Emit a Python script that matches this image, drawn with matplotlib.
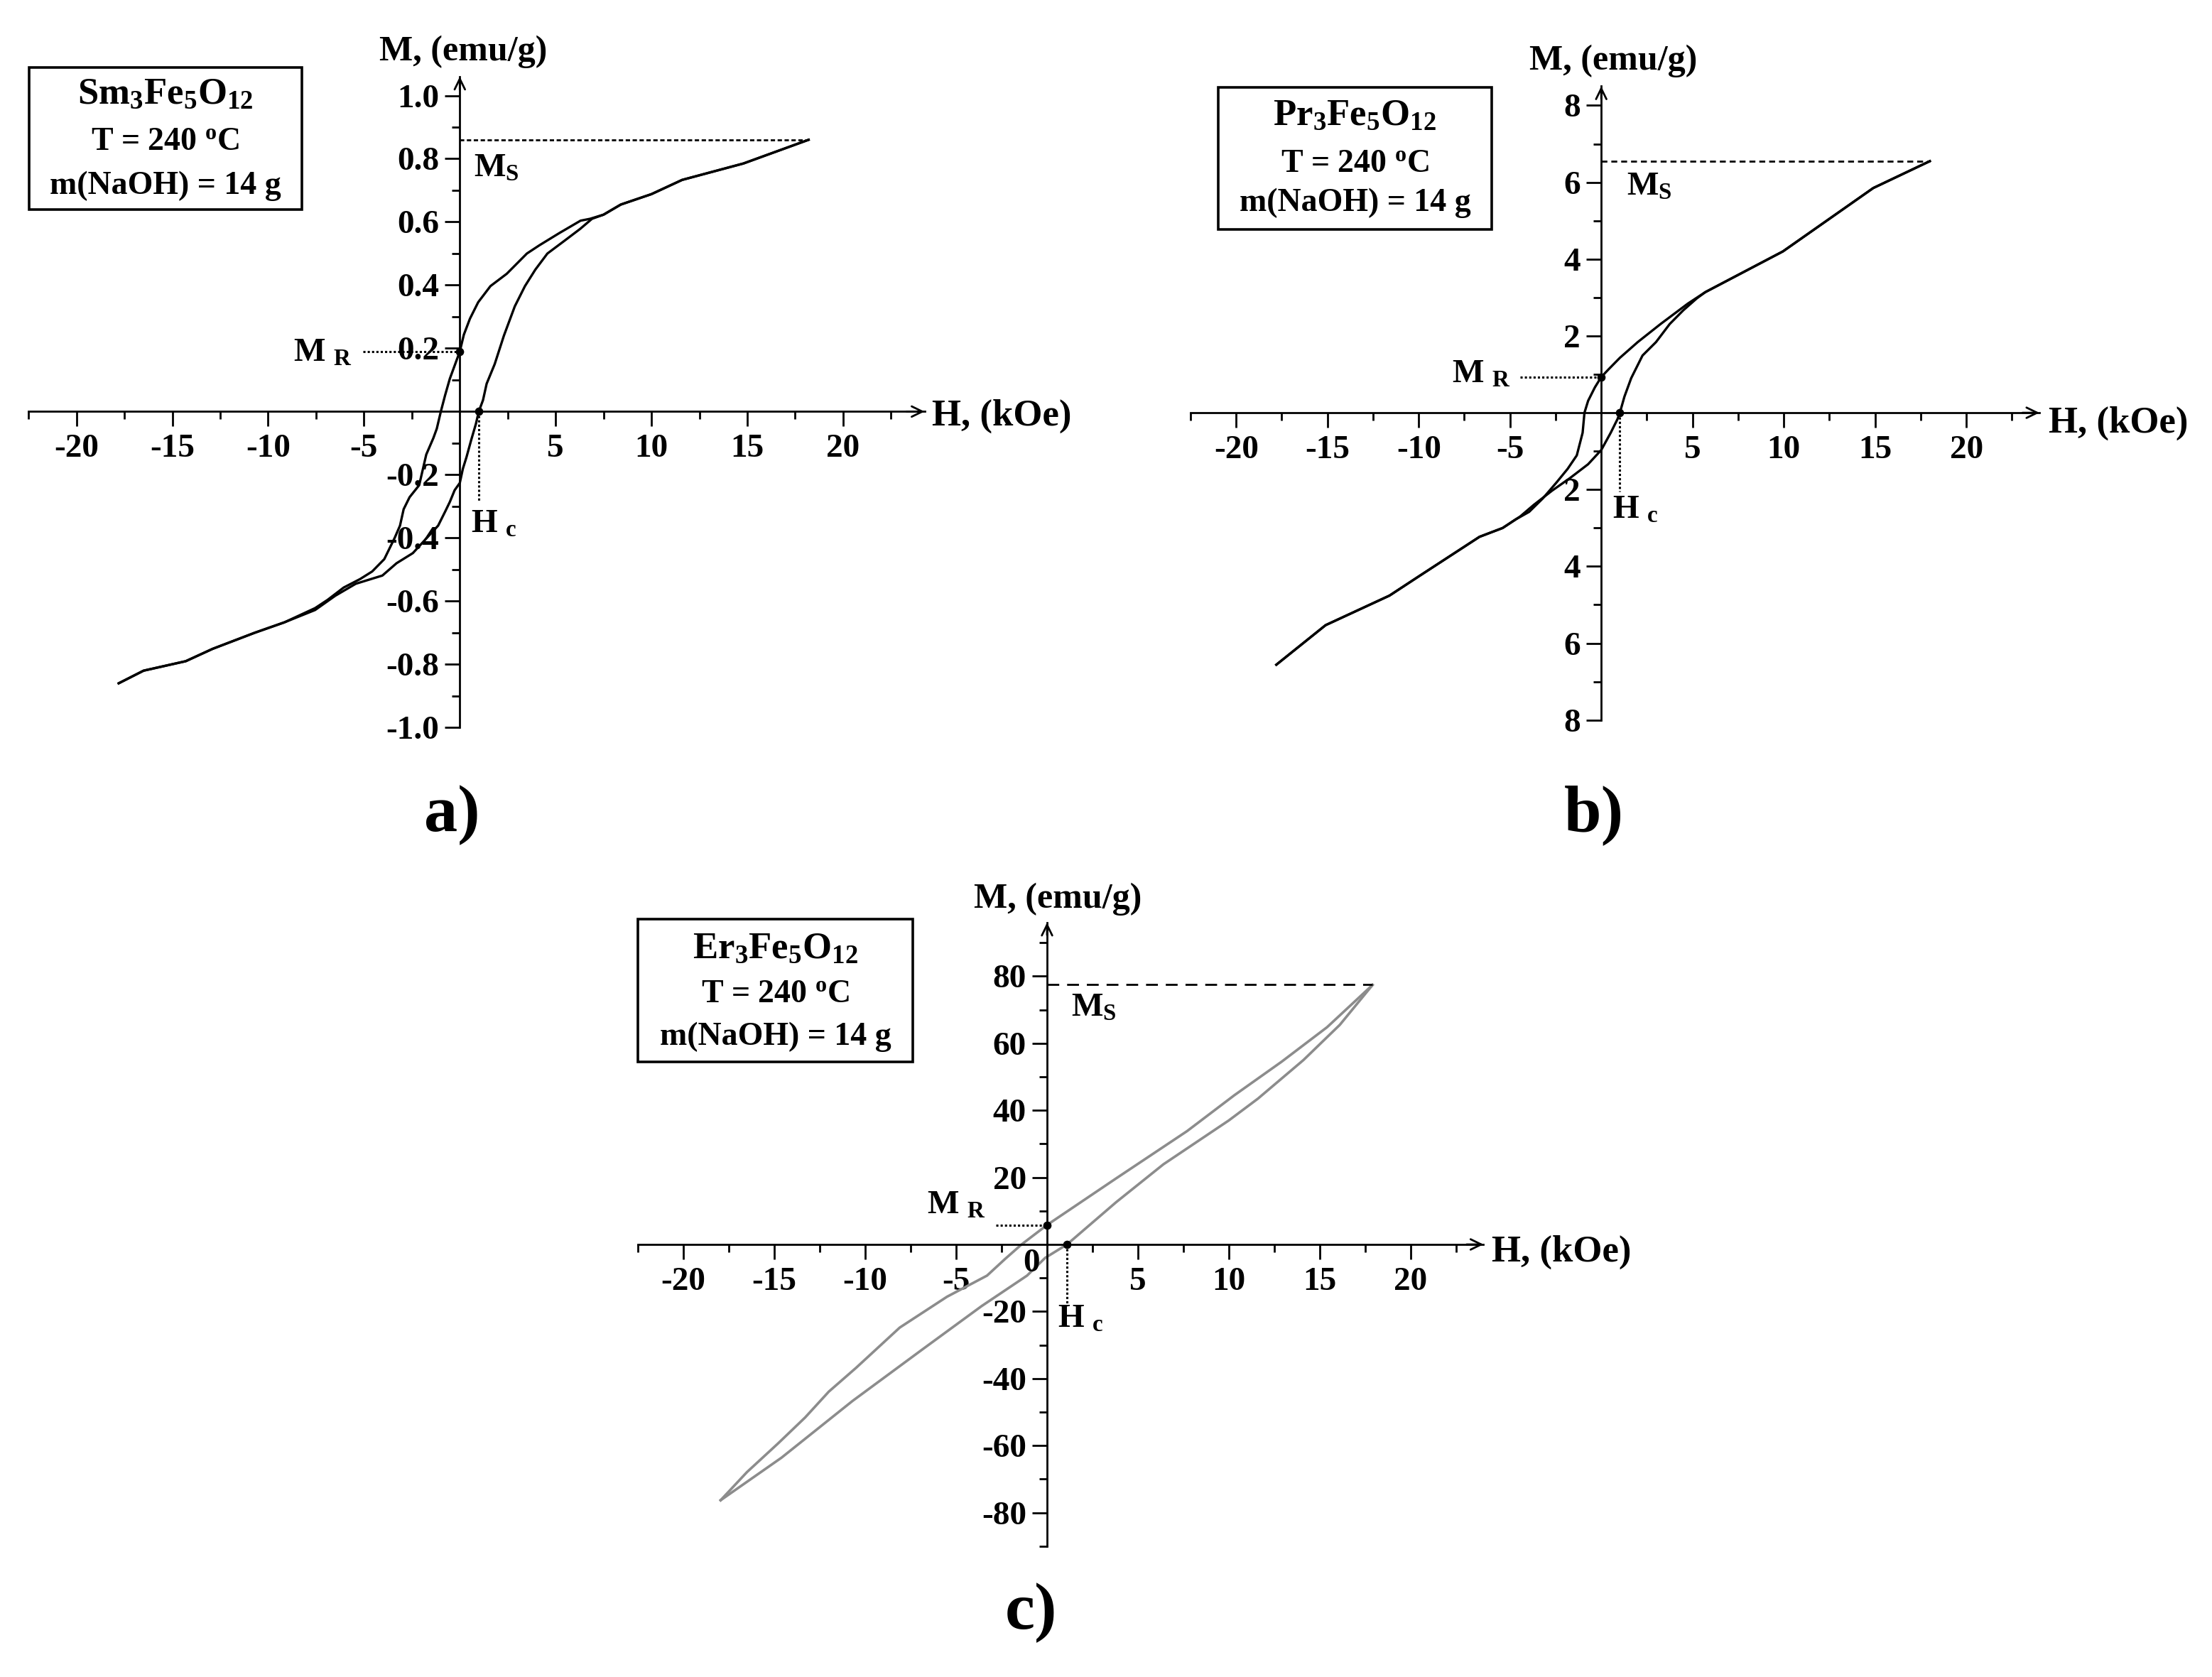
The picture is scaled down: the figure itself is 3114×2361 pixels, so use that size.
import numpy as np
import matplotlib
matplotlib.use("Agg")
import matplotlib.pyplot as plt
from matplotlib.patches import Rectangle

plt.rcParams['font.family'] = 'Liberation Serif'
plt.rcParams['font.weight'] = 'bold'
plt.rcParams['mathtext.fontset'] = 'custom'
plt.rcParams['mathtext.rm'] = 'Liberation Serif:bold'
plt.rcParams['mathtext.it'] = 'Liberation Serif:bold'
plt.rcParams['mathtext.bf'] = 'Liberation Serif:bold'

# ---- data (H in kOe, M in emu/g) ----
# a) Sm3Fe5O12
a_desc_H = [18.2, 14.8, 11.6, 10.0, 8.4, 7.5, 6.8, 6.3, 5.2, 4.15, 3.5, 2.45, 1.6, 0.96, 0.53, 0.21, 0.0,
            -0.52, -0.77, -0.99, -1.2, -1.38, -1.75, -2.12, -2.62, -2.93, -3.12, -3.4, -3.94, -4.57, -5.2,
            -6.06, -6.9, -7.55, -9.15, -10.7, -12.9, -14.3, -16.5, -17.8]
a_desc_M = [0.86, 0.785, 0.733, 0.688, 0.655, 0.623, 0.61, 0.604, 0.565, 0.526, 0.50, 0.436, 0.397, 0.346,
            0.294, 0.243, 0.19, 0.104, 0.051, 0.0, -0.054, -0.084, -0.136, -0.233, -0.271, -0.309, -0.361,
            -0.40, -0.467, -0.506, -0.53, -0.557, -0.596, -0.622, -0.667, -0.70, -0.751, -0.79, -0.82, -0.86]
a_asc_H = [-17.8, -16.5, -14.3, -12.9, -10.7, -9.15, -7.55, -6.5, -5.43, -4.04, -3.3, -2.45, -1.13, -0.76,
           -0.52, -0.27, 0.0, 0.16, 0.35, 0.59, 0.84, 0.99, 1.21, 1.4, 1.82, 2.3, 2.87, 3.4, 3.94, 4.57,
           5.43, 6.28, 6.9, 7.5, 8.4, 10.0, 11.6, 14.8, 18.2]
a_asc_M = [-0.86, -0.82, -0.79, -0.751, -0.70, -0.667, -0.628, -0.583, -0.545, -0.519, -0.48, -0.448,
           -0.361, -0.316, -0.286, -0.249, -0.226, -0.181, -0.144, -0.091, -0.039, 0.0, 0.036, 0.088,
           0.15, 0.24, 0.333, 0.397, 0.449, 0.50, 0.539, 0.578, 0.61, 0.623, 0.655, 0.688, 0.733, 0.785, 0.86]
a_Ms, a_Mr, a_Hc = 0.86, 0.19, 0.99

# b) Pr3Fe5O12
b_desc_H = [18.0, 14.9, 9.95, 5.7, 4.74, 3.25, 2.0, 1.02, 0.4, 0.0, -0.35, -0.72, -0.92, -1.02, -1.34,
            -1.84, -2.46, -3.2, -3.95, -4.7, -5.4, -6.67, -9.9, -11.6, -15.1, -17.8]
b_desc_M = [6.55, 5.85, 4.2, 3.14, 2.84, 2.31, 1.84, 1.43, 1.13, 0.93, 0.66, 0.31, 0.0, -0.52, -1.11,
            -1.46, -1.82, -2.23, -2.58, -2.78, -3.0, -3.23, -4.23, -4.76, -5.53, -6.56]
b_asc_H = [-17.8, -15.1, -11.6, -9.9, -6.67, -5.4, -4.44, -3.7, -2.7, -1.71, -0.72, 0.0, 0.52, 0.89,
           1.02, 1.27, 1.64, 2.26, 3.0, 3.75, 4.5, 5.24, 5.7, 9.95, 14.9, 18.0]
b_asc_M = [-6.56, -5.53, -4.76, -4.23, -3.23, -3.0, -2.7, -2.4, -2.03, -1.7, -1.34, -0.97, -0.52, -0.165,
           0.0, 0.42, 0.9, 1.49, 1.84, 2.31, 2.67, 2.98, 3.14, 4.2, 5.85, 6.55]
b_Ms, b_Mr, b_Hc = 6.55, 0.93, 1.02

# c) Er3Fe5O12
c_desc_H = [17.9, 15.4, 12.9, 10.3, 7.7, 3.8, 0.0, -1.4, -2.3, -3.3, -5.5, -8.1, -10.5, -12.0, -13.3,
            -14.8, -16.5, -17.95]
c_desc_M = [77.4, 64.8, 54.5, 44.5, 33.8, 19.7, 5.8, 0.0, -4.3, -9.3, -15.6, -24.8, -36.8, -43.9, -51.6,
            -59.4, -67.9, -76.3]
c_asc_H = [-17.95, -14.6, -10.7, -6.8, -3.6, -1.1, -0.1, 1.1, 3.8, 6.4, 10.0, 11.6, 14.1, 16.1, 17.9]
c_asc_M = [-76.3, -63.6, -46.7, -31.1, -18.4, -9.3, -4.0, 0.0, 12.6, 23.9, 37.0, 43.5, 55.0, 65.5, 77.4]
c_Ms, c_Mr, c_Hc = 77.5, 5.8, 1.1

# ticks
x_ticks = [-20, -15, -10, -5, 5, 10, 15, 20]
x_labels = ['-20', '-15', '-10', '-5', '5', '10', '15', '20']
a_y_ticks = [1.0, 0.8, 0.6, 0.4, 0.2, -0.2, -0.4, -0.6, -0.8, -1.0]
a_y_labels = ['1.0', '0.8', '0.6', '0.4', '0.2', '-0.2', '-0.4', '-0.6', '-0.8', '-1.0']
b_y_ticks = [8, 6, 4, 2, -2, -4, -6, -8]
b_y_labels = ['8', '6', '4', '2', '2', '4', '6', '8']
c_y_ticks = [80, 60, 40, 20, -20, -40, -60, -80]
c_y_labels = ['80', '60', '40', '20', '-20', '-40', '-60', '-80']

names = ['Sm$_3$Fe$_5$O$_{12}$', 'Pr$_3$Fe$_5$O$_{12}$', 'Er$_3$Fe$_5$O$_{12}$']
cond1 = 'T = 240 $^{\\rm o}$C'
cond2 = 'm(NaOH) = 14 g'

W, H = 3114, 2361
fig = plt.figure(figsize=(W / 200, H / 200), dpi=200)


def panel(x0, sx, y0, sy, xlim, ylim):
    l = x0 + xlim[0] * sx
    r = x0 + xlim[1] * sx
    t = y0 - ylim[1] * sy
    b = y0 - ylim[0] * sy
    ax = fig.add_axes([l / W, 1 - b / H, (r - l) / W, (b - t) / H])
    ax.set_xlim(xlim)
    ax.set_ylim(ylim)
    ax.patch.set_visible(False)
    for s in ['top', 'right']:
        ax.spines[s].set_visible(False)
    ax.spines['left'].set_position('zero')
    ax.spines['bottom'].set_position('zero')
    for s in ['left', 'bottom']:
        ax.spines[s].set_linewidth(1.0)
    ax.tick_params(which='major', direction='out', length=7.5, width=1.0, labelsize=17)
    ax.tick_params(which='minor', direction='out', length=4, width=1.0)
    ax.tick_params(axis='x', which='major', pad=4)
    ax.tick_params(axis='y', which='major', pad=3)
    # arrow heads
    kw = dict(arrowstyle='->,head_length=0.45,head_width=0.22', lw=1.0, color='k',
              shrinkA=0, shrinkB=0, mutation_scale=12)
    dx = (xlim[1] - xlim[0]) * 0.02
    dy = (ylim[1] - ylim[0]) * 0.02
    ax.annotate('', xy=(xlim[1], 0), xytext=(xlim[1] - dx, 0), arrowprops=kw, annotation_clip=False)
    ax.annotate('', xy=(0, ylim[1]), xytext=(0, ylim[1] - dy), arrowprops=kw, annotation_clip=False)
    ax.set_xticks(x_ticks, x_labels)
    ax.set_xticks([v for v in np.arange(-22.5, 23, 2.5) if v != 0], minor=True)
    return ax


def decorate(ax, Ms, Mr, Hc, hc_end, mr_start, Htop, ms_style, pos):
    ax.plot([0, Htop], [Ms, Ms], color='k', lw=1.0, linestyle=ms_style, clip_on=False)
    ax.plot([mr_start, 0], [Mr, Mr], color='k', lw=1.1, linestyle=(0, (1, 1)), clip_on=False)
    ax.plot([Hc, Hc], [0, hc_end], color='k', lw=1.1, linestyle=(0, (1, 1)), clip_on=False)
    ax.plot([0, Hc], [Mr, 0], 'o', color='k', ms=3.2, linestyle='none', clip_on=False)
    (msx, msy), (mrx, mry), (hcx, hcy) = pos
    ax.text(msx, msy, 'M$_{\\rm S}$', fontsize=17, ha='left', va='baseline')
    ax.text(mrx, mry, 'M $_{\\rm R}$', fontsize=17, ha='left', va='baseline')
    ax.text(hcx, hcy, 'H $_{\\rm c}$', fontsize=17, ha='left', va='baseline')


def box(x0, y0, x1, y1, lines_y, name):
    fig.add_artist(Rectangle((x0 / W, 1 - y1 / H), (x1 - x0) / W, (y1 - y0) / H,
                             transform=fig.transFigure, fill=False, lw=1.3, ec='k'))
    cx = (x0 + x1) / 2 / W
    fig.text(cx, 1 - lines_y[0] / H, name, fontsize=19, ha='center', va='center')
    fig.text(cx, 1 - lines_y[1] / H, cond1, fontsize=16.5, ha='center', va='center')
    fig.text(cx, 1 - lines_y[2] / H, cond2, fontsize=16.5, ha='center', va='center')


# ---- a) ----
ax = panel(647.3, 26.98, 579.4, 444.9, (-22.5, 24.25), (-1.0, 1.06))
ax.set_yticks(a_y_ticks, a_y_labels)
ax.set_yticks([v for v in np.round(np.arange(-1.0, 1.01, 0.1), 2) if v != 0], minor=True)
ax.plot(a_desc_H, a_desc_M, color='k', lw=1.2, clip_on=False)
ax.plot(a_asc_H, a_asc_M, color='k', lw=1.2, clip_on=False)
decorate(ax, a_Ms, a_Mr, a_Hc, -0.287, -5.05, a_desc_H[0], (0, (2.2, 1.3)),
         ((0.73, 0.743), (-8.7, 0.159), (0.57, -0.383)))
ax.text(0.17, 1.138, 'M, (emu/g)', fontsize=18, ha='center', va='center')
ax.text(24.63, -0.015, 'H, (kOe)', fontsize=19, ha='left', va='center')
box(40.7, 95, 425, 295, (133, 200, 262), names[0])
fig.text(636 / W, 1 - 1148 / H, 'a)', fontsize=34, ha='center', va='center')

# ---- b) ----
ax = panel(2254.2, 25.7, 581.1, 54.08, (-22.5, 24.0), (-8, 8.5))
ax.set_yticks(b_y_ticks, b_y_labels)
ax.set_yticks([v for v in range(-8, 9) if v != 0], minor=True)
ax.plot(b_desc_H, b_desc_M, color='k', lw=1.2, clip_on=False)
ax.plot(b_asc_H, b_asc_M, color='k', lw=1.2, clip_on=False)
decorate(ax, b_Ms, b_Mr, b_Hc, -2.05, -4.44, b_desc_H[0], (0, (3, 2)),
         ((1.4, 5.67), (-8.16, 0.78), (0.6, -2.75)))
ax.text(0.65, 9.15, 'M, (emu/g)', fontsize=18, ha='center', va='center')
ax.text(24.5, -0.27, 'H, (kOe)', fontsize=19, ha='left', va='center')
box(1715, 123, 2100, 323, (163, 231, 286), names[1])
fig.text(2244 / W, 1 - 1148 / H, 'b)', fontsize=34, ha='center', va='center')

# ---- c) ----
ax = panel(1474, 25.6, 1752, 4.72, (-22.5, 24.0), (-90, 96))
ax.set_yticks(c_y_ticks, c_y_labels)
ax.set_yticks([v for v in range(-90, 91, 10) if v != 0], minor=True)
ax.plot(c_desc_H, c_desc_M, color='#8c8c8c', lw=1.3, clip_on=False)
ax.plot(c_asc_H, c_asc_M, color='#8c8c8c', lw=1.3, clip_on=False)
decorate(ax, c_Ms, c_Mr, c_Hc, -17.7, -2.8, c_desc_H[0], (0, (6, 4)),
         ((1.32, 68.1), (-6.6, 9.2), (0.59, -24.8)))
ax.text(-0.86, -5.7, '0', fontsize=17, ha='center', va='center')
ax.text(0.59, 103, 'M, (emu/g)', fontsize=18, ha='center', va='center')
ax.text(24.45, -2.3, 'H, (kOe)', fontsize=19, ha='left', va='center')
box(898, 1294, 1285, 1495, (1336, 1400, 1460), names[2])
fig.text(1452 / W, 1 - 2271 / H, 'c)', fontsize=34, ha='center', va='center')

fig.savefig('out.png', dpi=200)
